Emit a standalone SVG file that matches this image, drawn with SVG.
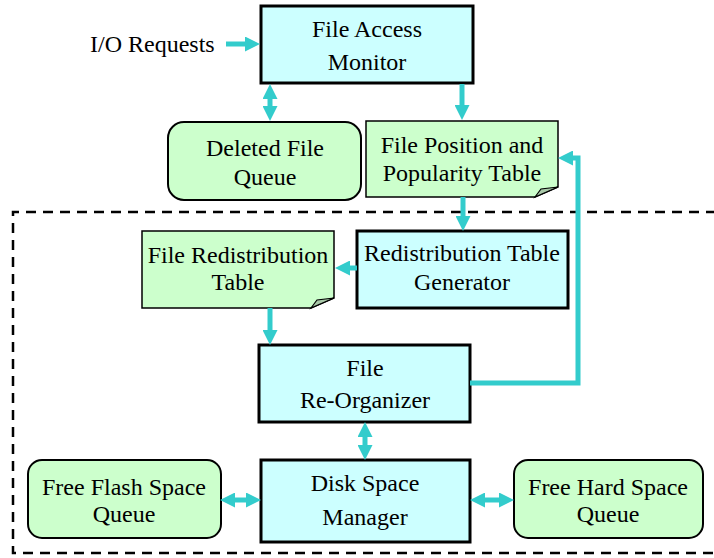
<svg xmlns="http://www.w3.org/2000/svg" width="714" height="558" viewBox="0 0 714 558">
  <style>
    .proc { fill: #CCFFFF; stroke: #000; stroke-width: 3; }
    .queue { fill: #CCFFCC; stroke: #000; stroke-width: 2; }
    .note { fill: #CCFFCC; stroke: #000; stroke-width: 1.5; stroke-linejoin: miter; }
    .fold { fill: #A8C8A8; stroke: #000; stroke-width: 1.2; }
    .lbl { font-family: "Liberation Serif", "Times New Roman", serif; font-size: 24px; fill: #000; text-anchor: middle; }
    .lbl-l { font-family: "Liberation Serif", "Times New Roman", serif; font-size: 24px; fill: #000; }
    .link { fill: none; stroke: #33CCCC; stroke-width: 5; stroke-linejoin: miter; }
    .frame { fill: none; stroke: #000; stroke-width: 2.5; stroke-dasharray: 10 7; }
  </style>
  <defs>
    <marker id="head" markerUnits="userSpaceOnUse" markerWidth="15" markerHeight="15" refX="4" refY="7.5" orient="auto-start-reverse">
      <path d="M0,0 L15,7.5 L0,15 Z" fill="#33CCCC"/>
    </marker>
  </defs>

  <rect width="714" height="558" fill="#fff"/>

  <!-- subsystem boundary -->
  <path class="frame" d="M716,212 L13,212 L13,553 L716,553"/>

  <g id="io-requests">
    <text class="lbl-l" x="90" y="52">I/O Requests</text>
  </g>

  <g id="file-access-monitor">
    <rect class="proc" x="261" y="6" width="212" height="77"/>
    <text class="lbl" x="367" y="37">File Access</text>
    <text class="lbl" x="367" y="70">Monitor</text>
  </g>

  <g id="deleted-file-queue">
    <rect class="queue" x="168" y="122" width="193" height="78" rx="16"/>
    <text class="lbl" x="265" y="156">Deleted File</text>
    <text class="lbl" x="265" y="185">Queue</text>
  </g>

  <g id="file-position-table">
    <path class="note" d="M366,121 L558,121 L558,187 L535,197 L366,197 Z"/>
    <path class="fold" d="M535,197 L541,189 L558,187 Z"/>
    <text class="lbl" x="462" y="153">File Position and</text>
    <text class="lbl" x="462" y="181">Popularity Table</text>
  </g>

  <g id="redistribution-table-generator">
    <rect class="proc" x="357" y="231" width="211" height="77"/>
    <text class="lbl" x="462" y="261">Redistribution Table</text>
    <text class="lbl" x="462" y="290">Generator</text>
  </g>

  <g id="file-redistribution-table">
    <path class="note" d="M142,231 L334,231 L334,298 L311,308 L142,308 Z"/>
    <path class="fold" d="M311,308 L317,300 L334,298 Z"/>
    <text class="lbl" x="238" y="263">File Redistribution</text>
    <text class="lbl" x="238" y="290">Table</text>
  </g>

  <g id="file-reorganizer">
    <rect class="proc" x="259" y="345" width="211" height="77"/>
    <text class="lbl" x="365" y="376">File</text>
    <text class="lbl" x="365" y="408">Re-Organizer</text>
  </g>

  <g id="disk-space-manager">
    <rect class="proc" x="261" y="460" width="209" height="82"/>
    <text class="lbl" x="365" y="491">Disk Space</text>
    <text class="lbl" x="365" y="525">Manager</text>
  </g>

  <g id="free-flash-space-queue">
    <rect class="queue" x="28" y="460" width="193" height="78" rx="14"/>
    <text class="lbl" x="124" y="495">Free Flash Space</text>
    <text class="lbl" x="124" y="522">Queue</text>
  </g>

  <g id="free-hard-space-queue">
    <rect class="queue" x="514" y="460" width="189" height="78" rx="14"/>
    <text class="lbl" x="608" y="495">Free Hard Space</text>
    <text class="lbl" x="608" y="522">Queue</text>
  </g>

  <g id="connectors">
    <path class="link" d="M226,44 L249,44" marker-end="url(#head)"/>
    <path class="link" d="M270,95 L270,110" marker-start="url(#head)" marker-end="url(#head)"/>
    <path class="link" d="M462,84 L462,109" marker-end="url(#head)"/>
    <path class="link" d="M463,197 L463,220" marker-end="url(#head)"/>
    <path class="link" d="M357,268 L346,268" marker-end="url(#head)"/>
    <path class="link" d="M270,308 L270,334" marker-end="url(#head)"/>
    <path class="link" d="M470,383 L578,383 L578,158 L569,158" marker-end="url(#head)"/>
    <path class="link" d="M365,433 L365,449" marker-start="url(#head)" marker-end="url(#head)"/>
    <path class="link" d="M231,500 L250,500" marker-start="url(#head)" marker-end="url(#head)"/>
    <path class="link" d="M481,500 L503,500" marker-start="url(#head)" marker-end="url(#head)"/>
  </g>
</svg>
